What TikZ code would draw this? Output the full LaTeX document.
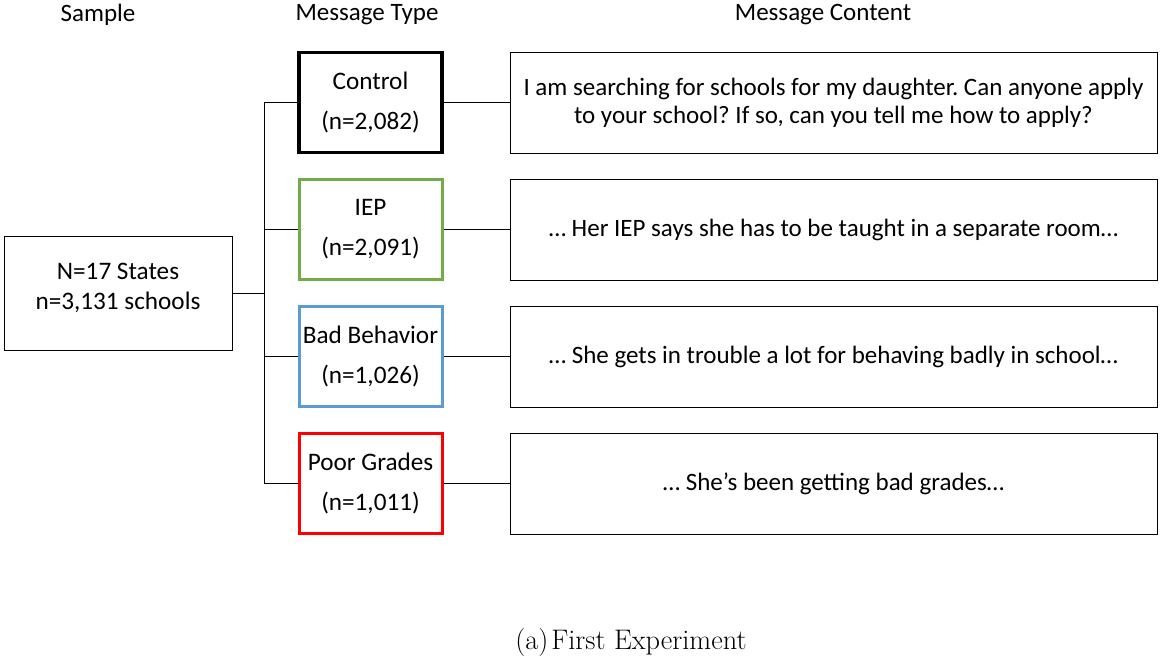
\documentclass[tikz,border=0pt]{standalone}
\usepackage{fontspec}
\setmainfont{Carlito}
\newfontfamily\lmfont{Latin Modern Roman}
\frenchspacing
\definecolor{cgreen}{HTML}{70AD47}
\definecolor{cblue}{HTML}{5B9BD5}
\definecolor{cred}{HTML}{FF0000}
\begin{document}
\begin{tikzpicture}[x=1pt,y=-1pt,
  every node/.style={font=\fontsize{25}{28}\selectfont},
  head/.style={anchor=center},
  typebox/.style={draw, line width=3pt, minimum width=143pt, minimum height=100pt, align=center, inner sep=0pt, font=\fontsize{25.2}{40}\selectfont},
  contbox/.style={draw, line width=1pt, minimum width=647pt, minimum height=101pt, align=center, inner sep=0pt},
  conn/.style={line width=1pt}
]
\useasboundingbox (0,0) rectangle (1160,656);
\node[head] (h1) at (98,15) {Sample};
\node[head] (h2) at (367,15) {Message Type};
\node[head] (h3) at (823,15) {Message Content};

\node[draw, line width=1pt, minimum width=228pt, minimum height=114pt, inner sep=0pt] (s) at (118,293) {};
\node[align=center, font=\fontsize{25.2}{30}\selectfont] (st) at (118,288) {N=17 States\\n=3,131 schools};

\node[typebox, line width=3.6pt] (t1) at (370.5,102.5) {Control\\(n=2,082)};
\node[typebox, draw=cgreen] (t2) at (370.5,229.5) {IEP\\(n=2,091)};
\node[typebox, draw=cblue] (t3) at (370.5,356.5) {Bad Behavior\\(n=1,026)};
\node[typebox, draw=cred] (t4) at (370.5,483.5) {Poor Grades\\(n=1,011)};

\node[contbox] (c1) at (833.5,102.5) {I am searching for schools for my daughter. Can anyone apply\\to your school? If so, can you tell me how to apply?};
\node[contbox] (c2) at (833.5,229.5) {… Her IEP says she has to be taught in a separate room…};
\node[contbox] (c3) at (833.5,356.5) {… She gets in trouble a lot for behaving badly in school…};
\node[contbox] (c4) at (833.5,483.5) {… She’s been getting bad grades…};

\coordinate (j) at (264,293);
\draw[conn] (s.east) -- (j);
\draw[conn] (t1.west) -| (j);
\draw[conn] (t4.west) -| (j);
\draw[conn] (t2.west) -- (t2.west -| j);
\draw[conn] (t3.west) -- (t3.west -| j);
\foreach \i in {1,2,3,4} \draw[conn] (t\i.east) -- (c\i.west);

\node[font=\lmfont\fontsize{28.3}{32}\selectfont] (cap) at (631,642) {(a)\hspace{0.1em}First Experiment};
\end{tikzpicture}
\end{document}
